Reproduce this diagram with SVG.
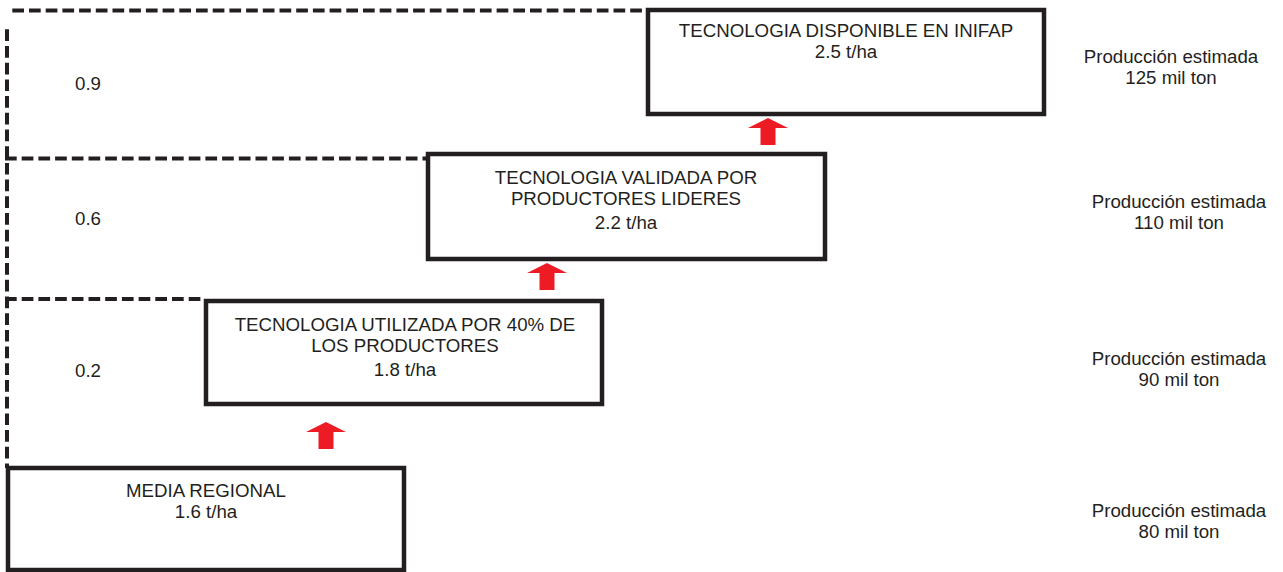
<svg xmlns="http://www.w3.org/2000/svg" width="1283" height="572" viewBox="0 0 1283 572">
<defs>
<style>
.box{fill:#fff;stroke:#231f20;stroke-width:4.5}
.dash{fill:none;stroke:#231f20;stroke-width:4;stroke-dasharray:11.7 5}
.t{font-family:"Liberation Sans",Arial,sans-serif;font-size:18.7px;fill:#231f20;text-anchor:middle}
.arr{fill:#ed1c24}
</style>
<path id="up" class="arr" d="M0,0 L20,10 L7.5,10 L7.5,27 L-7.5,27 L-7.5,10 L-20,10 Z"/>
</defs>
<rect width="1283" height="572" fill="#fff"/>
<g id="connectors">
<path class="dash" d="M12.3,10.5 H645"/>
<path class="dash" d="M7,29.3 V468"/>
<path class="dash" d="M5,158.5 H426"/>
<path class="dash" d="M5,299 H204"/>
<use href="#up" x="768" y="118"/>
<use href="#up" x="547" y="263"/>
<use href="#up" x="326" y="422"/>
</g>
<g id="n1">
<rect class="box" x="648" y="10" width="396" height="104"/>
<text class="t" x="846" y="37">TECNOLOGIA DISPONIBLE EN INIFAP</text>
<text class="t" x="846" y="58">2.5 t/ha</text>
</g>
<g id="n2">
<rect class="box" x="428" y="154" width="397" height="105"/>
<text class="t" x="626" y="184">TECNOLOGIA VALIDADA POR</text>
<text class="t" x="626" y="205">PRODUCTORES LIDERES</text>
<text class="t" x="626" y="229">2.2 t/ha</text>
</g>
<g id="n3">
<rect class="box" x="206" y="301" width="396" height="103"/>
<text class="t" x="405" y="331">TECNOLOGIA UTILIZADA POR 40% DE</text>
<text class="t" x="405" y="352">LOS PRODUCTORES</text>
<text class="t" x="405" y="376">1.8 t/ha</text>
</g>
<g id="n4">
<rect class="box" x="8" y="468" width="396" height="102"/>
<text class="t" x="206" y="497">MEDIA REGIONAL</text>
<text class="t" x="206" y="518">1.6 t/ha</text>
</g>
<g id="levels">
<text class="t" x="88" y="90">0.9</text>
<text class="t" x="88" y="225">0.6</text>
<text class="t" x="88" y="377">0.2</text>
</g>
<g id="prod">
<text class="t" x="1171" y="63">Producción estimada</text>
<text class="t" x="1171" y="84">125 mil ton</text>
<text class="t" x="1179" y="208">Producción estimada</text>
<text class="t" x="1179" y="229">110 mil ton</text>
<text class="t" x="1179" y="365">Producción estimada</text>
<text class="t" x="1179" y="386">90 mil ton</text>
<text class="t" x="1179" y="517">Producción estimada</text>
<text class="t" x="1179" y="538">80 mil ton</text>
</g>
</svg>
